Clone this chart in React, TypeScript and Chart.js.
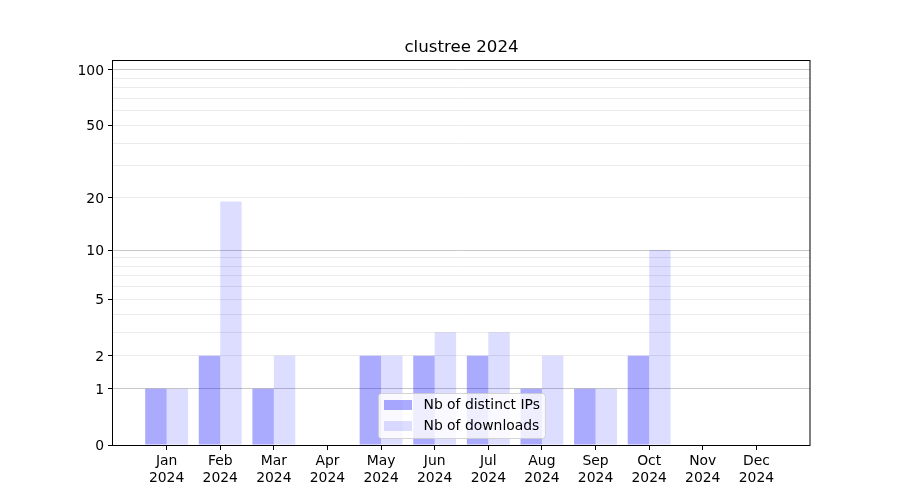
import React, { useEffect, useRef } from 'react';
import { Chart, registerables, Scale } from 'chart.js';

const titleText = 'clustree 2024';
const months = ['Jan', 'Feb', 'Mar', 'Apr', 'May', 'Jun', 'Jul', 'Aug', 'Sep', 'Oct', 'Nov', 'Dec'];
const yearLabel = '2024';
const seriesNames = ['Nb of distinct IPs', 'Nb of downloads'];
const distinctIPs = [1, 2, 1, 0, 2, 2, 2, 1, 1, 2, 0, 0];
const downloads = [1, 19, 2, 0, 2, 3, 3, 2, 1, 10, 0, 0];
const yMax = 113;
const yLabeledTicks = [0, 1, 2, 5, 10, 20, 50, 100];
const yMajorGrid = [1, 10, 100];
const yMinorGrid = [2, 3, 4, 5, 6, 7, 8, 9, 20, 30, 40, 50, 60, 70, 80, 90];

const allYTicks = Array.from(new Set([...yLabeledTicks, ...yMajorGrid, ...yMinorGrid])).sort((a, b) => a - b);

class Log1pScale extends Scale {
  static id = 'log1p';
  static defaults = {};
  _startT = 0;
  _rangeT = 1;
  parse(raw: any) {
    if (raw === null || raw === undefined) return null;
    const v = +raw;
    return isFinite(v) ? v : null;
  }
  determineDataLimits() {
    const mm = this.getMinMax(true);
    const o: any = this.options;
    this.min = o.min ?? Math.max(0, mm.min);
    this.max = o.max ?? mm.max;
  }
  buildTicks() {
    return allYTicks.filter(v => v >= this.min && v <= this.max).map(v => ({ value: v }));
  }
  configure() {
    super.configure();
    this._startT = Math.log10(1 + this.min);
    this._rangeT = Math.log10(1 + this.max) - this._startT || 1;
  }
  getLabelForValue(v: number) {
    return String(v);
  }
  getPixelForValue(v: number) {
    return this.getPixelForDecimal((Math.log10(1 + v) - this._startT) / this._rangeT);
  }
  getValueForPixel(p: number) {
    return Math.pow(10, this._startT + this.getDecimalForPixel(p) * this._rangeT) - 1;
  }
}

Chart.register(...registerables, Log1pScale as any);

const FONT = "'DejaVu Sans', sans-serif";
const colorIPs = 'rgba(0, 0, 255, 0.333)';
const colorDl = 'rgba(0, 0, 255, 0.133)';

const framePlugin = {
  id: 'frameAndLegend',
  afterDraw(chart: any) {
    const { ctx, chartArea } = chart;
    const { left, right, top, bottom } = chartArea;
    ctx.save();
    ctx.strokeStyle = '#000';
    ctx.lineWidth = 1;
    ctx.strokeRect(Math.round(left) - 0.5, Math.round(top) + 0.5, Math.round(right - left) + 0.5, Math.round(bottom - top));

    // title
    ctx.font = `16.67px ${FONT}`;
    ctx.fillStyle = '#000';
    ctx.textAlign = 'center';
    ctx.textBaseline = 'alphabetic';
    ctx.fillText(titleText, (left + right) / 2, top - 8);

    // legend
    ctx.font = `13.9px ${FONT}`;
    const ds = chart.data.datasets;
    const textW = Math.max(...ds.map((d: any) => ctx.measureText(d.label).width));
    const pad = 5.5;
    const handleW = 28;
    const gap = 11.5;
    const w = pad + handleW + gap + textW + pad;
    const rowH = 21;
    const h = 45;
    const cx = (left + right) / 2;
    const x0 = Math.round(cx - w / 2) + 0.5;
    const y0 = Math.round(bottom - 7 - h) + 0.5;
    ctx.beginPath();
    if (ctx.roundRect) ctx.roundRect(x0, y0, w, h, 3);
    else ctx.rect(x0, y0, w, h);
    ctx.fillStyle = 'rgba(255,255,255,0.8)';
    ctx.fill();
    ctx.strokeStyle = 'rgba(204,204,204,0.8)';
    ctx.stroke();
    ds.forEach((d: any, i: number) => {
      const cy = y0 + 11.5 + i * rowH;
      ctx.fillStyle = d.backgroundColor;
      ctx.fillRect(x0 + pad, cy - 5, handleW, 10);
      ctx.fillStyle = '#000';
      ctx.textBaseline = 'middle';
      ctx.textAlign = 'left';
      ctx.fillText(d.label, x0 + pad + handleW + gap, cy);
    });
    ctx.restore();
  },
};

export default function App() {
  const ref = useRef<HTMLCanvasElement | null>(null);
  useEffect(() => {
    document.body.style.margin = '0';
    const canvas = ref.current;
    if (!canvas) return;
    const font = { family: FONT, size: 13.9 };
    const chart = new Chart(canvas, {
      type: 'bar',
      data: {
        datasets: [
          {
            label: seriesNames[0],
            data: distinctIPs.map((v, i) => ({ x: i, y: v })),
            backgroundColor: colorIPs,
            borderWidth: 0,
            barPercentage: 1,
            categoryPercentage: 0.8,
          },
          {
            label: seriesNames[1],
            data: downloads.map((v, i) => ({ x: i, y: v })),
            backgroundColor: colorDl,
            borderWidth: 0,
            barPercentage: 1,
            categoryPercentage: 0.8,
          },
        ],
      },
      options: {
        animation: false,
        responsive: false,
        devicePixelRatio: 1,
        events: [],
        layout: { padding: { left: 0, right: 90, top: 60, bottom: 0 } },
        plugins: {
          legend: { display: false },
          tooltip: { enabled: false },
          title: { display: false },
        },
        scales: {
          x: {
            type: 'linear',
            min: -1,
            max: 12,
            offset: false,
            afterBuildTicks: (s: any) => {
              s.ticks = months.map((_, i) => ({ value: i }));
            },
            grid: { offset: false, drawOnChartArea: false, drawTicks: true, tickLength: 5, tickColor: '#000', tickWidth: 1 },
            border: { display: false },
            ticks: {
              autoSkip: false,
              maxRotation: 0,
              padding: 3,
              color: '#000',
              font,
              callback: (v: any) => [months[v], yearLabel],
            },
            afterFit: (s: any) => {
              s.height = 55;
            },
          },
          y: {
            type: 'log1p' as any,
            min: 0,
            max: yMax,
            grid: {
              color: (c: any) => {
                const v = c.tick ? c.tick.value : 0;
                if (yMajorGrid.includes(v)) return '#c8c8c8';
                if (v > 0) return '#ebebeb';
                return 'rgba(0,0,0,0)';
              },
              tickColor: (c: any) => (c.tick && yLabeledTicks.includes(c.tick.value) ? '#000' : 'rgba(0,0,0,0)'),
              lineWidth: 1,
              tickLength: 5,
              tickWidth: 1,
            },
            border: { display: false },
            ticks: {
              autoSkip: false,
              padding: 4,
              labelOffset: 1.5,
              color: '#000',
              font,
              callback: (v: any) => (yLabeledTicks.includes(v) ? String(v) : ''),
            },
            afterFit: (s: any) => {
              s.width = 113;
            },
          },
        },
      } as any,
      plugins: [framePlugin],
    });
    return () => chart.destroy();
  }, []);
  return (
    <div style={{ width: 900, height: 500 }}>
      <canvas ref={ref} width={900} height={500} style={{ width: 900, height: 500, display: 'block' }} />
    </div>
  );
}
